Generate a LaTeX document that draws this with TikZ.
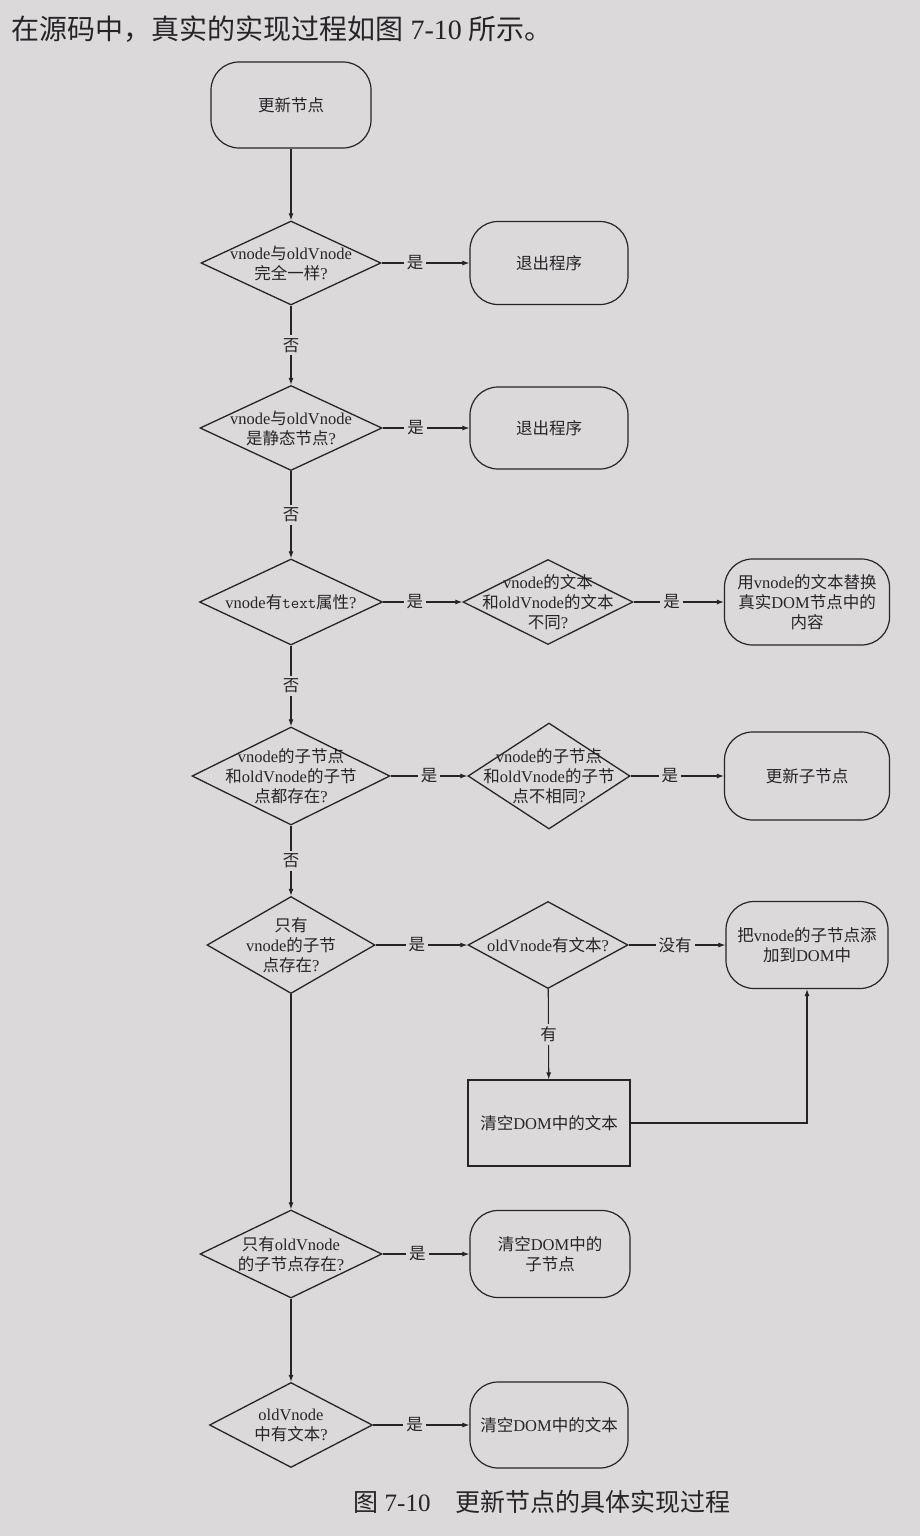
\documentclass[tikz,border=0pt]{standalone}
\usepackage{fontspec}
\setmainfont{Liberation Serif}
\newfontfamily\cjk{Noto Sans CJK SC}
\newcommand{\zh}[1]{{\cjk #1}}
\newcommand{\nodefont}{\fontsize{16.5}{20}\selectfont}
\usetikzlibrary{shapes.geometric,arrows.meta}
\definecolor{paper}{RGB}{219,217,218}
\definecolor{ink}{RGB}{38,36,38}
\tikzset{
  decision/.style={draw=ink, line width=1.3pt, diamond, inner sep=0pt},
  dtext/.style={align=center, font=\nodefont, text=ink, inner sep=0pt},
  terminal/.style={draw=ink, line width=1.2pt, rounded corners=28pt, align=center,
    font=\nodefont, text=ink, inner sep=0pt},
  process/.style={draw=ink, line width=1.2pt, align=center, font=\nodefont, text=ink},
  flow/.style={draw=ink, line width=1.1pt, -{Latex[length=7pt,width=5pt]}},
  ans/.style={fill=paper, inner sep=3pt, font=\nodefont, text=ink},
}

\begin{document}
\begin{tikzpicture}[x=1pt,y=-1pt]
      \fill[paper] (0,0) rectangle (920,1536);
      \useasboundingbox (0,0) rectangle (920,1536);
      \node[anchor=west, text=ink, font=\fontsize{28}{32}\selectfont] (intro) at (8,29)
        {\zh{在源码中，真实的实现过程如图} 7-10 \zh{所示。}};
      % left column
      \node[terminal, minimum width=160, minimum height=86] (start) at (291,105) {\zh{更新节点}};
      \node[decision, minimum width=180, minimum height=84,
        label={[dtext]center:{vnode\zh{与}oldVnode\\\zh{完全一样}?}}] (same) at (291,263) {};
      \node[decision, minimum width=182, minimum height=85,
        label={[dtext]center:{vnode\zh{与}oldVnode\\\zh{是静态节点}?}}] (static) at (291,428) {};
      \node[decision, minimum width=183, minimum height=86,
        label={[dtext]center:{vnode\zh{有}\texttt{text}\zh{属性}?}}] (hastext) at (291,602) {};
      \node[decision, minimum width=198, minimum height=98,
        label={[dtext]center:{vnode\zh{的子节点}\\\zh{和}oldVnode\zh{的子节}\\\zh{点都存在}?}}] (both) at (291,776) {};
      \node[decision, minimum width=168, minimum height=97,
        label={[dtext]center:{\zh{只有}\\vnode\zh{的子节}\\\zh{点存在}?}}] (onlynew) at (291,945) {};
      \node[decision, minimum width=182, minimum height=88,
        label={[dtext]center:{\zh{只有}oldVnode\\\zh{的子节点存在}?}}] (onlyold) at (291,1254) {};
      \node[decision, minimum width=163, minimum height=85,
        label={[dtext]center:{oldVnode\\\zh{中有文本}?}}] (oldtext) at (291,1425) {};
      % middle column
      \node[terminal, minimum width=158, minimum height=83] (quit1) at (549,263) {\zh{退出程序}};
      \node[terminal, minimum width=158, minimum height=82] (quit2) at (549,428) {\zh{退出程序}};
      \node[decision, minimum width=170, minimum height=85,
        label={[dtext]center:{vnode\zh{的文本}\\\zh{和}oldVnode\zh{的文本}\\\zh{不同}?}}] (textdiff) at (548,602) {};
      \node[decision, minimum width=162, minimum height=106,
        label={[dtext]center:{vnode\zh{的子节点}\\\zh{和}oldVnode\zh{的子节}\\\zh{点不相同}?}}] (kidsdiff) at (549,776) {};
      \node[decision, minimum width=160, minimum height=87,
        label={[dtext]center:{oldVnode\zh{有文本}?}}] (newtext) at (548,945) {};
      \node[process, minimum width=162, minimum height=86] (cleartext) at (549,1123) {\zh{清空}DOM\zh{中的文本}};
      \node[terminal, minimum width=160, minimum height=87] (clearkids) at (550,1254) {\zh{清空}DOM\zh{中的}\\\zh{子节点}};
      \node[terminal, minimum width=158, minimum height=86] (clearold) at (549,1425) {\zh{清空}DOM\zh{中的文本}};
      % right column
      \node[terminal, minimum width=165, minimum height=86] (settext) at (807,602)
        {\zh{用}vnode\zh{的文本替换}\\\zh{真实}DOM\zh{节点中的}\\\zh{内容}};
      \node[terminal, minimum width=165, minimum height=88] (updkids) at (807,776) {\zh{更新子节点}};
      \node[terminal, minimum width=162, minimum height=87] (addkids) at (807,945)
        {\zh{把}vnode\zh{的子节点添}\\\zh{加到}DOM\zh{中}};
      % connectors
      \draw[flow] (start) -- (same);
      \draw[flow] (same) -- node[ans, pos=.38] {\zh{是}} (quit1);
      \draw[flow] (same) -- node[ans] {\zh{否}} (static);
      \draw[flow] (static) -- node[ans, pos=.38] {\zh{是}} (quit2);
      \draw[flow] (static) -- node[ans] {\zh{否}} (hastext);
      \draw[flow] (hastext) -- node[ans, pos=.4] {\zh{是}} (textdiff);
      \draw[flow] (textdiff) -- node[ans, pos=.42] {\zh{是}} (settext);
      \draw[flow] (hastext) -- node[ans] {\zh{否}} (both);
      \draw[flow] (both) -- node[ans, pos=.5] {\zh{是}} (kidsdiff);
      \draw[flow] (kidsdiff) -- node[ans, pos=.42] {\zh{是}} (updkids);
      \draw[flow] (both) -- node[ans] {\zh{否}} (onlynew);
      \draw[flow] (onlynew) -- node[ans, pos=.45] {\zh{是}} (newtext);
      \draw[flow] (newtext) -- node[ans, pos=.48] {\zh{没有}} (addkids);
      \draw[flow] (newtext) -- node[ans] {\zh{有}} (cleartext);
      \draw[flow] (cleartext) -| (addkids);
      \draw[flow] (onlynew) -- (onlyold);
      \draw[flow] (onlyold) -- node[ans, pos=.4] {\zh{是}} (clearkids);
      \draw[flow] (onlyold) -- (oldtext);
      \draw[flow] (oldtext) -- node[ans, pos=.43] {\zh{是}} (clearold);
      \node[text=ink, font=\fontsize{25}{30}\selectfont] (caption) at (542,1502)
        {\zh{图} 7-10\quad\zh{更新节点的具体实现过程}};
\end{tikzpicture}
\end{document}
